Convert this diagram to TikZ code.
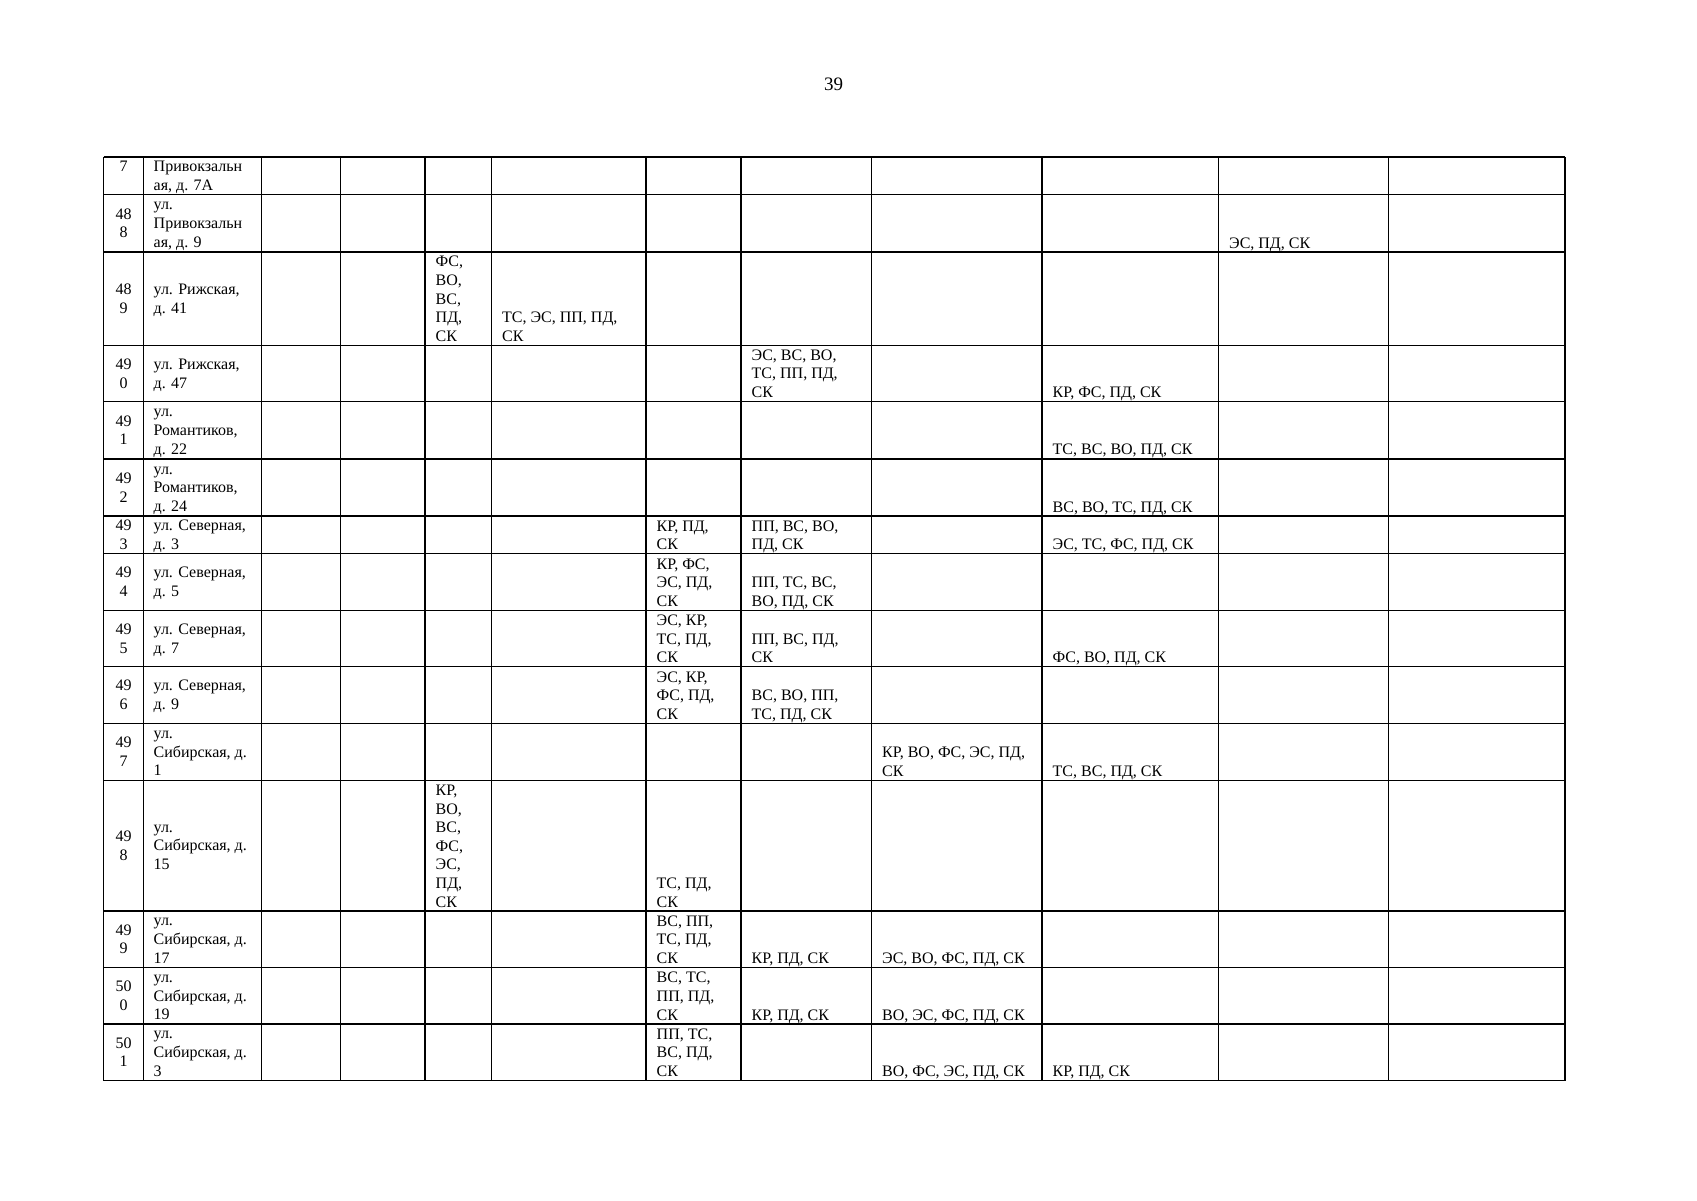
\documentclass[tikz,border=0pt]{standalone}
\usepackage{fontspec}
\setmainfont{Liberation Serif}
\newcommand\cellfont{\fontsize{16}{18.6}\selectfont}
\newcommand\tcL[1]{\begin{tabular}[b]{@{}l@{}}#1\end{tabular}}
\newcommand\tcC[1]{\begin{tabular}[b]{@{}c@{}}#1\end{tabular}}
\tikzset{
  grid line/.style={line width=1.3pt, draw=black},
  cellL/.style={anchor=base west, inner sep=0pt, font=\cellfont},
  cellC/.style={anchor=base, inner sep=0pt, font=\cellfont},
}
\begin{document}
\begin{tikzpicture}[x=1pt,y=-1pt]
\useasboundingbox (0,0) rectangle (1697,1200);
\node[anchor=base, inner sep=0pt, font=\fontsize{19}{22}\selectfont] (pagenum) at (833.5,90) {39};
% horizontal lines
\foreach \yy in {157,194.5,252,345.3,401.5,458.9,516,553.7,610.2,666.7,723.2,780.2,911,967.5,1024,1080.5}
  \draw[grid line] (103.5,\yy) -- (1565,\yy);
% vertical lines
\foreach \xx in {103.5,143.5,261.5,340.5,425,491.5,646,741,871.5,1042,1218.5,1388.5,1565}
  \draw[grid line] (\xx,157) -- (\xx,1080.5);
% column 1 numbers
\node[cellC] (n1) at (123.5,171.9) {\tcC{7}};
\node[cellC] (n2) at (123.5,237.85) {\tcC{48\\8}};
\node[cellC] (n3) at (123.5,313.25) {\tcC{48\\9}};
\node[cellC] (n4) at (123.5,388.0) {\tcC{49\\0}};
\node[cellC] (n5) at (123.5,444.8) {\tcC{49\\1}};
\node[cellC] (n6) at (123.5,502.05) {\tcC{49\\2}};
\node[cellC] (n7) at (123.5,549.45) {\tcC{49\\3}};
\node[cellC] (n8) at (123.5,596.55) {\tcC{49\\4}};
\node[cellC] (n9) at (123.5,653.05) {\tcC{49\\5}};
\node[cellC] (n10) at (123.5,709.55) {\tcC{49\\6}};
\node[cellC] (n11) at (123.5,766.3) {\tcC{49\\7}};
\node[cellC] (n12) at (123.5,860.2) {\tcC{49\\8}};
\node[cellC] (n13) at (123.5,953.85) {\tcC{49\\9}};
\node[cellC] (n14) at (123.5,1010.35) {\tcC{50\\0}};
\node[cellC] (n15) at (123.5,1066.85) {\tcC{50\\1}};
% column 2 addresses
\node[cellL] (a1) at (153.5,190.5) {\tcL{Привокзальн\\ая, д. 7А}};
\node[cellL] (a2) at (153.5,247.15) {\tcL{ул.\\Привокзальн\\ая, д. 9}};
\node[cellL] (a3) at (153.5,313.25) {\tcL{ул. Рижская,\\д. 41}};
\node[cellL] (a4) at (153.5,388.0) {\tcL{ул. Рижская,\\д. 47}};
\node[cellL] (a5) at (153.5,454.1) {\tcL{ул.\\Романтиков,\\д. 22}};
\node[cellL] (a6) at (153.5,511.35) {\tcL{ул.\\Романтиков,\\д. 24}};
\node[cellL] (a7) at (153.5,549.45) {\tcL{ул. Северная,\\д. 3}};
\node[cellL] (a8) at (153.5,596.55) {\tcL{ул. Северная,\\д. 5}};
\node[cellL] (a9) at (153.5,653.05) {\tcL{ул. Северная,\\д. 7}};
\node[cellL] (a10) at (153.5,709.55) {\tcL{ул. Северная,\\д. 9}};
\node[cellL] (a11) at (153.5,775.6) {\tcL{ул.\\Сибирская, д.\\1}};
\node[cellL] (a12) at (153.5,869.5) {\tcL{ул.\\Сибирская, д.\\15}};
\node[cellL] (a13) at (153.5,963.15) {\tcL{ул.\\Сибирская, д.\\17}};
\node[cellL] (a14) at (153.5,1019.65) {\tcL{ул.\\Сибирская, д.\\19}};
\node[cellL] (a15) at (153.5,1076.15) {\tcL{ул.\\Сибирская, д.\\3}};
% data cells (bottom aligned)
\node[cellL] (r2c11) at (1229,248) {\tcL{ЭС, ПД, СК}};
\node[cellL] (r3c5) at (435.5,341.3) {\tcL{ФС,\\ВО,\\ВС,\\ПД,\\СК}};
\node[cellL] (r3c6) at (502,341.3) {\tcL{ТС, ЭС, ПП, ПД,\\СК}};
\node[cellL] (r4c8) at (751.5,397.5) {\tcL{ЭС, ВС, ВО,\\ТС, ПП, ПД,\\СК}};
\node[cellL] (r4c10) at (1052.5,397.5) {\tcL{КР, ФС, ПД, СК}};
\node[cellL] (r5c10) at (1052.5,454.9) {\tcL{ТС, ВС, ВО, ПД, СК}};
\node[cellL] (r6c10) at (1052.5,512) {\tcL{ВС, ВО, ТС, ПД, СК}};
\node[cellL] (r7c7) at (656.5,549.7) {\tcL{КР, ПД,\\СК}};
\node[cellL] (r7c8) at (751.5,549.7) {\tcL{ПП, ВС, ВО,\\ПД, СК}};
\node[cellL] (r7c10) at (1052.5,549.7) {\tcL{ЭС, ТС, ФС, ПД, СК}};
\node[cellL] (r8c7) at (656.5,606.2) {\tcL{КР, ФС,\\ЭС, ПД,\\СК}};
\node[cellL] (r8c8) at (751.5,606.2) {\tcL{ПП, ТС, ВС,\\ВО, ПД, СК}};
\node[cellL] (r9c7) at (656.5,662.7) {\tcL{ЭС, КР,\\ТС, ПД,\\СК}};
\node[cellL] (r9c8) at (751.5,662.7) {\tcL{ПП, ВС, ПД,\\СК}};
\node[cellL] (r9c10) at (1052.5,662.7) {\tcL{ФС, ВО, ПД, СК}};
\node[cellL] (r10c7) at (656.5,719.2) {\tcL{ЭС, КР,\\ФС, ПД,\\СК}};
\node[cellL] (r10c8) at (751.5,719.2) {\tcL{ВС, ВО, ПП,\\ТС, ПД, СК}};
\node[cellL] (r11c9) at (882,776.2) {\tcL{КР, ВО, ФС, ЭС, ПД,\\СК}};
\node[cellL] (r11c10) at (1052.5,776.2) {\tcL{ТС, ВС, ПД, СК}};
\node[cellL] (r12c5) at (435.5,907) {\tcL{КР,\\ВО,\\ВС,\\ФС,\\ЭС,\\ПД,\\СК}};
\node[cellL] (r12c7) at (656.5,907) {\tcL{ТС, ПД,\\СК}};
\node[cellL] (r13c7) at (656.5,963.5) {\tcL{ВС, ПП,\\ТС, ПД,\\СК}};
\node[cellL] (r13c8) at (751.5,963.5) {\tcL{КР, ПД, СК}};
\node[cellL] (r13c9) at (882,963.5) {\tcL{ЭС, ВО, ФС, ПД, СК}};
\node[cellL] (r14c7) at (656.5,1020) {\tcL{ВС, ТС,\\ПП, ПД,\\СК}};
\node[cellL] (r14c8) at (751.5,1020) {\tcL{КР, ПД, СК}};
\node[cellL] (r14c9) at (882,1020) {\tcL{ВО, ЭС, ФС, ПД, СК}};
\node[cellL] (r15c7) at (656.5,1076.5) {\tcL{ПП, ТС,\\ВС, ПД,\\СК}};
\node[cellL] (r15c9) at (882,1076.5) {\tcL{ВО, ФС, ЭС, ПД, СК}};
\node[cellL] (r15c10) at (1052.5,1076.5) {\tcL{КР, ПД, СК}};
\end{tikzpicture}
\end{document}
